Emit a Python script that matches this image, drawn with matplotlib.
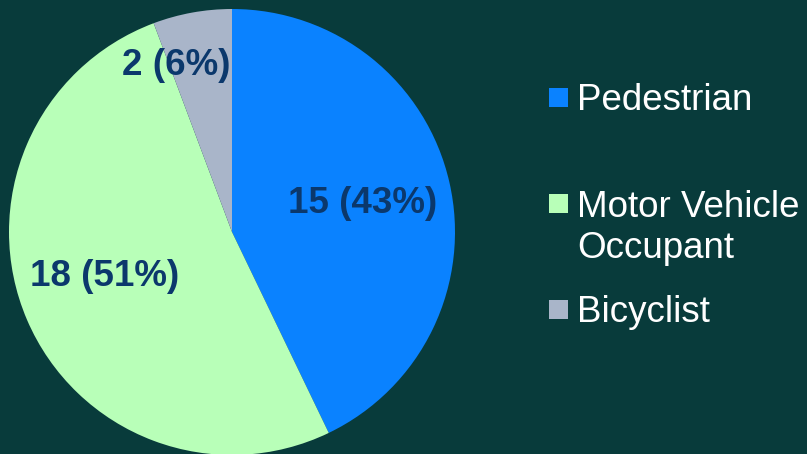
import matplotlib
matplotlib.use('Agg')
import matplotlib.pyplot as plt
from matplotlib.patches import Rectangle

# data
categories = ['Pedestrian', 'Motor Vehicle\nOccupant', 'Bicyclist']
counts = [15, 18, 2]
colors = ['#0a82ff', '#b8ffb8', '#a9b5c9']

bg = '#083b3b'
label_color = '#0b386c'

W, H = 807, 454
fig = plt.figure(figsize=(W / 100, H / 100), dpi=100, facecolor=bg)
plt.rcParams['font.family'] = ['Liberation Sans', 'DejaVu Sans']

# pie axes placed in pixel terms: center (232,232), radius 223
cx, cy, r = 232, 232, 223
ax = fig.add_axes([(cx - r) / W, (H - cy - r) / H, 2 * r / W, 2 * r / H])
ax.set_facecolor(bg)

total = sum(counts)
wedges, texts, autotexts = ax.pie(
    counts, colors=colors, startangle=90, counterclock=False,
    autopct=lambda p: '{:d} ({:.0f}%)'.format(int(round(p * total / 100)), p),
    pctdistance=0.6, radius=1.0,
    wedgeprops=dict(linewidth=0),
    textprops=dict(color=label_color, fontsize=26.5, fontweight='bold'))
ax.set_xlim(-1, 1)
ax.set_ylim(-1, 1)
ax.set_aspect('equal')

# label positions as in the original slide
autotexts[0].set_position((0.585, 0.13))
autotexts[1].set_position((-0.57, -0.20))
autotexts[2].set_position((-0.25, 0.745))

# legend drawn by hand
sq = 19
pitch = 42
for i, (lab, col) in enumerate(zip(categories, colors)):
    yc = 97.5 + 106 * i
    fig.patches.append(Rectangle((549 / W, (H - yc - sq / 2) / H), sq / W, sq / H,
                                 transform=fig.transFigure, facecolor=col,
                                 edgecolor='none', figure=fig))
    nlines = lab.count('\n') + 1
    base = yc + 12.5 + pitch * (nlines - 1)
    fig.text(577 / W, (H - base) / H, lab, color='white', fontsize=26.5,
             va='baseline', ha='left', linespacing=1.235)

fig.savefig('out.png', dpi=100, facecolor=bg)
